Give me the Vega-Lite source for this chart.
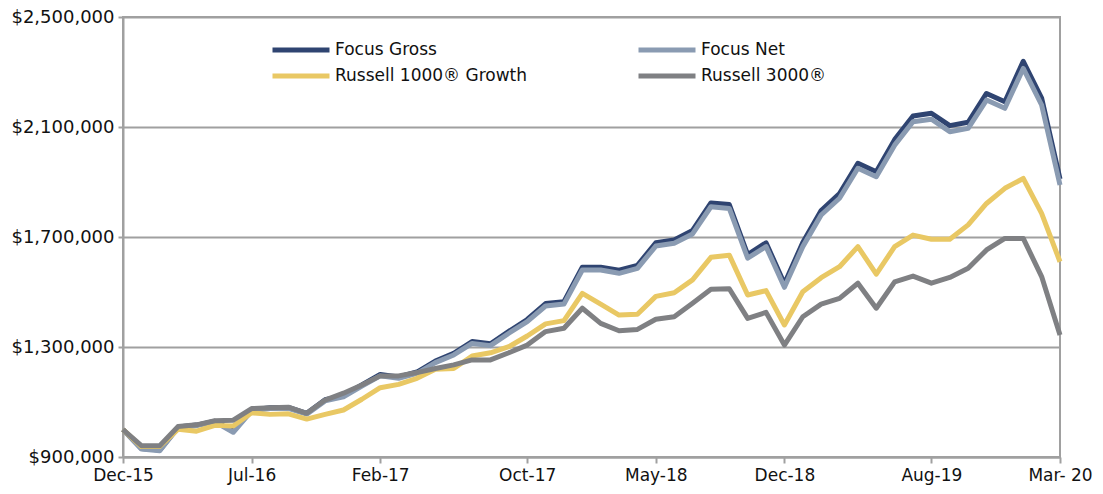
{
  "$schema": "https://vega.github.io/schema/vega-lite/v6.json",
  "width": 937,
  "height": 440,
  "autosize": {"type": "none"},
  "padding": {"left": 123, "top": 17, "right": 43, "bottom": 37},
  "background": "white",
  "config": {
    "font": "DejaVu Sans",
    "view": {"stroke": "#a0a0a0", "strokeWidth": 2},
    "axis": {"labelFont": "DejaVu Sans", "labelColor": "#111", "labelFontSize": 17, "domainColor": "#a0a0a0", "domainWidth": 2, "tickColor": "#a0a0a0", "tickWidth": 2, "gridColor": "#a0a0a0", "gridWidth": 2}
  },
  "data": {"values": [
    {"month":"Dec-15","Focus Gross":1000000,"Focus Net":1000000,"Russell 1000® Growth":1000000,"Russell 3000®":1000000},
    {"month":"Jan-16","Focus Gross":931000,"Focus Net":929000,"Russell 1000® Growth":938000,"Russell 3000®":941000},
    {"month":"Feb-16","Focus Gross":925000,"Focus Net":923000,"Russell 1000® Growth":938000,"Russell 3000®":941000},
    {"month":"Mar-16","Focus Gross":1009000,"Focus Net":1007000,"Russell 1000® Growth":1001000,"Russell 3000®":1011000},
    {"month":"Apr-16","Focus Gross":1016000,"Focus Net":1014000,"Russell 1000® Growth":994000,"Russell 3000®":1017000},
    {"month":"May-16","Focus Gross":1030000,"Focus Net":1028000,"Russell 1000® Growth":1015000,"Russell 3000®":1032000},
    {"month":"Jun-16","Focus Gross":993000,"Focus Net":990000,"Russell 1000® Growth":1013000,"Russell 3000®":1034000},
    {"month":"Jul-16","Focus Gross":1071000,"Focus Net":1068000,"Russell 1000® Growth":1061000,"Russell 3000®":1076000},
    {"month":"Aug-16","Focus Gross":1079000,"Focus Net":1076000,"Russell 1000® Growth":1055000,"Russell 3000®":1079000},
    {"month":"Sep-16","Focus Gross":1080000,"Focus Net":1077000,"Russell 1000® Growth":1057000,"Russell 3000®":1081000},
    {"month":"Oct-16","Focus Gross":1059000,"Focus Net":1056000,"Russell 1000® Growth":1038000,"Russell 3000®":1059000},
    {"month":"Nov-16","Focus Gross":1108000,"Focus Net":1104000,"Russell 1000® Growth":1055000,"Russell 3000®":1107000},
    {"month":"Dec-16","Focus Gross":1123000,"Focus Net":1119000,"Russell 1000® Growth":1071000,"Russell 3000®":1132000},
    {"month":"Jan-17","Focus Gross":1162000,"Focus Net":1158000,"Russell 1000® Growth":1110000,"Russell 3000®":1162000},
    {"month":"Feb-17","Focus Gross":1200000,"Focus Net":1195000,"Russell 1000® Growth":1152000,"Russell 3000®":1195000},
    {"month":"Mar-17","Focus Gross":1191000,"Focus Net":1186000,"Russell 1000® Growth":1164000,"Russell 3000®":1195000},
    {"month":"Apr-17","Focus Gross":1209000,"Focus Net":1204000,"Russell 1000® Growth":1186000,"Russell 3000®":1207000},
    {"month":"May-17","Focus Gross":1249000,"Focus Net":1243000,"Russell 1000® Growth":1219000,"Russell 3000®":1222000},
    {"month":"Jun-17","Focus Gross":1277000,"Focus Net":1271000,"Russell 1000® Growth":1222000,"Russell 3000®":1235000},
    {"month":"Jul-17","Focus Gross":1320000,"Focus Net":1313000,"Russell 1000® Growth":1267000,"Russell 3000®":1253000},
    {"month":"Aug-17","Focus Gross":1312000,"Focus Net":1305000,"Russell 1000® Growth":1279000,"Russell 3000®":1253000},
    {"month":"Sep-17","Focus Gross":1357000,"Focus Net":1350000,"Russell 1000® Growth":1301000,"Russell 3000®":1279000},
    {"month":"Oct-17","Focus Gross":1400000,"Focus Net":1392000,"Russell 1000® Growth":1340000,"Russell 3000®":1307000},
    {"month":"Nov-17","Focus Gross":1458000,"Focus Net":1449000,"Russell 1000® Growth":1384000,"Russell 3000®":1356000},
    {"month":"Dec-17","Focus Gross":1465000,"Focus Net":1456000,"Russell 1000® Growth":1396000,"Russell 3000®":1368000},
    {"month":"Jan-18","Focus Gross":1590000,"Focus Net":1580000,"Russell 1000® Growth":1495000,"Russell 3000®":1441000},
    {"month":"Feb-18","Focus Gross":1590000,"Focus Net":1580000,"Russell 1000® Growth":1456000,"Russell 3000®":1386000},
    {"month":"Mar-18","Focus Gross":1579000,"Focus Net":1568000,"Russell 1000® Growth":1416000,"Russell 3000®":1359000},
    {"month":"Apr-18","Focus Gross":1597000,"Focus Net":1586000,"Russell 1000® Growth":1419000,"Russell 3000®":1364000},
    {"month":"May-18","Focus Gross":1679000,"Focus Net":1667000,"Russell 1000® Growth":1484000,"Russell 3000®":1401000},
    {"month":"Jun-18","Focus Gross":1689000,"Focus Net":1677000,"Russell 1000® Growth":1497000,"Russell 3000®":1410000},
    {"month":"Jul-18","Focus Gross":1724000,"Focus Net":1711000,"Russell 1000® Growth":1544000,"Russell 3000®":1459000},
    {"month":"Aug-18","Focus Gross":1824000,"Focus Net":1810000,"Russell 1000® Growth":1626000,"Russell 3000®":1510000},
    {"month":"Sep-18","Focus Gross":1818000,"Focus Net":1804000,"Russell 1000® Growth":1634000,"Russell 3000®":1512000},
    {"month":"Oct-18","Focus Gross":1636000,"Focus Net":1623000,"Russell 1000® Growth":1489000,"Russell 3000®":1404000},
    {"month":"Nov-18","Focus Gross":1679000,"Focus Net":1665000,"Russell 1000® Growth":1505000,"Russell 3000®":1426000},
    {"month":"Dec-18","Focus Gross":1530000,"Focus Net":1517000,"Russell 1000® Growth":1380000,"Russell 3000®":1307000},
    {"month":"Jan-19","Focus Gross":1680000,"Focus Net":1665000,"Russell 1000® Growth":1501000,"Russell 3000®":1410000},
    {"month":"Feb-19","Focus Gross":1796000,"Focus Net":1780000,"Russell 1000® Growth":1552000,"Russell 3000®":1456000},
    {"month":"Mar-19","Focus Gross":1858000,"Focus Net":1841000,"Russell 1000® Growth":1592000,"Russell 3000®":1477000},
    {"month":"Apr-19","Focus Gross":1968000,"Focus Net":1950000,"Russell 1000® Growth":1665000,"Russell 3000®":1532000},
    {"month":"May-19","Focus Gross":1937000,"Focus Net":1919000,"Russell 1000® Growth":1565000,"Russell 3000®":1441000},
    {"month":"Jun-19","Focus Gross":2054000,"Focus Net":2034000,"Russell 1000® Growth":1665000,"Russell 3000®":1537000},
    {"month":"Jul-19","Focus Gross":2140000,"Focus Net":2119000,"Russell 1000® Growth":1707000,"Russell 3000®":1558000},
    {"month":"Aug-19","Focus Gross":2150000,"Focus Net":2128000,"Russell 1000® Growth":1692000,"Russell 3000®":1532000},
    {"month":"Sep-19","Focus Gross":2105000,"Focus Net":2083000,"Russell 1000® Growth":1692000,"Russell 3000®":1553000},
    {"month":"Oct-19","Focus Gross":2117000,"Focus Net":2095000,"Russell 1000® Growth":1744000,"Russell 3000®":1586000},
    {"month":"Nov-19","Focus Gross":2222000,"Focus Net":2198000,"Russell 1000® Growth":1822000,"Russell 3000®":1653000},
    {"month":"Dec-19","Focus Gross":2192000,"Focus Net":2168000,"Russell 1000® Growth":1877000,"Russell 3000®":1695000},
    {"month":"Jan-20","Focus Gross":2339000,"Focus Net":2313000,"Russell 1000® Growth":1913000,"Russell 3000®":1695000},
    {"month":"Feb-20","Focus Gross":2205000,"Focus Net":2180000,"Russell 1000® Growth":1786000,"Russell 3000®":1556000},
    {"month":"Mar-20","Focus Gross":1911000,"Focus Net":1889000,"Russell 1000® Growth":1610000,"Russell 3000®":1344000}
  ]},
  "transform": [
    {"fold": ["Focus Gross", "Focus Net", "Russell 1000® Growth", "Russell 3000®"], "as": ["series", "value"]}
  ],
  "mark": {"type": "line", "strokeWidth": 5, "strokeJoin": "round"},
  "encoding": {
    "x": {
      "field": "month", "type": "ordinal", "sort": null,
      "scale": {"type": "point", "padding": 0},
      "axis": {
        "title": null, "labelAngle": 0, "grid": false, "tickSize": 6, "labelPadding": 4,
        "values": ["Dec-15", "Jul-16", "Feb-17", "Oct-17", "May-18", "Dec-18", "Aug-19", "Mar-20"],
        "labelExpr": "datum.value == 'Mar-20' ? 'Mar- 20' : datum.value"
      }
    },
    "y": {
      "field": "value", "type": "quantitative",
      "scale": {"domain": [900000, 2500000], "nice": false, "zero": false},
      "axis": {"title": null, "values": [900000, 1300000, 1700000, 2100000, 2500000], "format": "$,.0f", "tickSize": 5, "labelPadding": 4, "labelFontSize": 18, "grid": true}
    },
    "color": {
      "field": "series", "type": "nominal",
      "scale": {
        "domain": ["Focus Gross", "Focus Net", "Russell 1000® Growth", "Russell 3000®"],
        "range": ["#2f4471", "#8a9bb2", "#e9c864", "#7f8083"]
      },
      "legend": {
        "title": null, "orient": "none", "legendX": 147, "legendY": 23, "columns": 2, "direction": "horizontal",
        "columnPadding": 108, "rowPadding": 6, "clipHeight": 20, "symbolType": "stroke", "symbolSize": 3249, "labelLimit": 400,
        "symbolStrokeWidth": 5, "labelFontSize": 17, "labelFont": "DejaVu Sans", "labelColor": "#111", "labelOffset": 3
      }
    }
  }
}
